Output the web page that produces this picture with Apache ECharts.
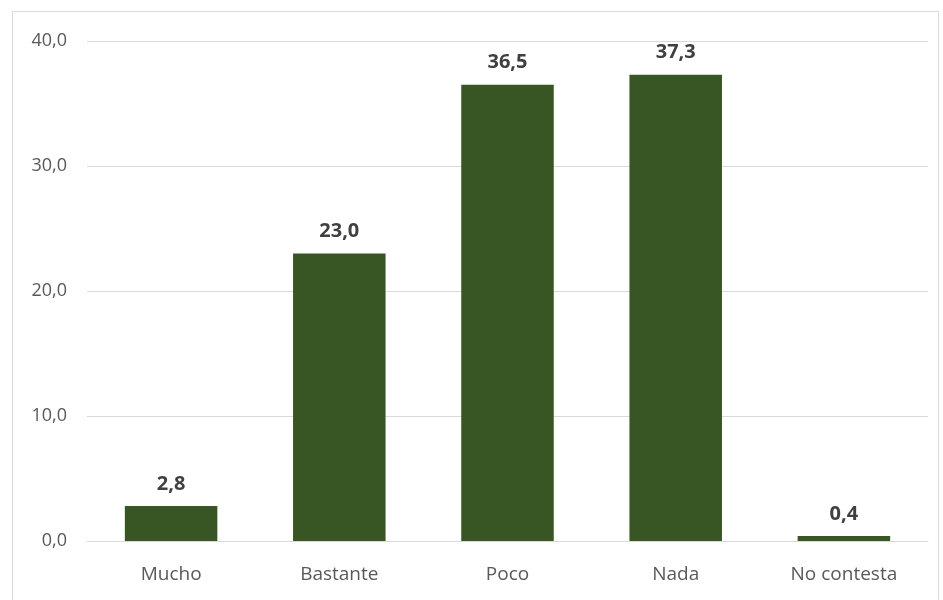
<!DOCTYPE html>
<html><head><meta charset="utf-8">
<script src="https://cdn.jsdelivr.net/npm/echarts@6/dist/echarts.min.js"></script>
<style>html,body{margin:0;padding:0;background:#fff}#c{width:943px;height:600px}</style>
</head><body><div id="c"></div>
<script>
const categories = ['Mucho', 'Bastante', 'Poco', 'Nada', 'No contesta'];
const values = [2.8, 23.0, 36.5, 37.3, 0.4];
const chart = echarts.init(document.getElementById('c'), null, {renderer: 'canvas'});
const fmt = v => v.toFixed(1).replace('.', ',');
chart.setOption({
  animation: false,
  graphic: [{type: 'rect', shape: {x: 12.5, y: 11.5, width: 926, height: 600}, style: {fill: 'none', stroke: '#d9d9d9', lineWidth: 1}}],
  grid: {left: 87, right: 15, top: 41, bottom: 59},
  xAxis: {
    type: 'category', data: categories,
    axisLine: {lineStyle: {color: '#d9d9d9', width: 1}},
    axisTick: {show: false},
    axisLabel: {color: '#595959', fontSize: 19, fontFamily: 'Open Sans', margin: 24}
  },
  yAxis: {
    type: 'value', min: 0, max: 40, interval: 10,
    axisLine: {show: false}, axisTick: {show: false},
    splitLine: {lineStyle: {color: '#d9d9d9', width: 1}},
    axisLabel: {color: '#595959', fontSize: 18, fontFamily: 'Open Sans', margin: 20, formatter: v => fmt(v)}
  },
  series: [{
    type: 'bar', data: values, barWidth: '55%',
    itemStyle: {color: '#375623'},
    label: {show: true, position: 'top', distance: 12, color: '#404040', fontSize: 20, fontWeight: 'bold', fontFamily: 'Open Sans', formatter: p => fmt(p.value)}
  }]
});
</script></body></html>
